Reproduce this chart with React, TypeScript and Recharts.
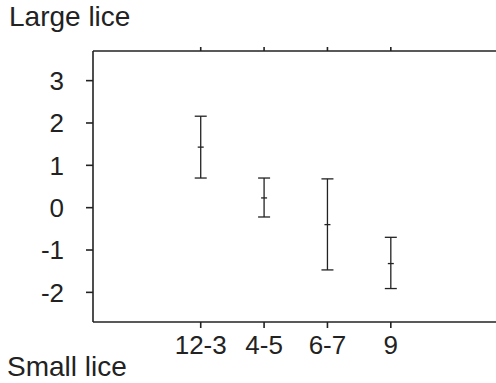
import {
  ComposedChart,
  ErrorBar,
  Scatter,
  XAxis,
  YAxis,
} from "recharts";

const categories = ["12-3", "4-5", "6-7", "9"];
const positions = [1, 2, 3, 4];
const means = [1.43, 0.23, -0.4, -1.32];
const upper = [2.16, 0.7, 0.68, -0.7];
const lower = [0.7, -0.22, -1.47, -1.91];
const yTicks = [-2, -1, 0, 1, 2, 3];

const rows = positions.map((x, i) => ({
  x,
  mean: means[i],
  err: [means[i] - lower[i], upper[i] - means[i]],
}));

const ink = "#222";
const font = "'Liberation Sans', Arial, sans-serif";

function MeanTick(props: any) {
  const { cx, cy } = props;
  return <line x1={cx - 3} x2={cx + 3} y1={cy} y2={cy} stroke={ink} strokeWidth={1.3} />;
}

export default function App() {
  return (
    <div
      style={{
        position: "absolute",
        left: 0,
        top: 0,
        width: 496,
        height: 383,
        overflow: "hidden",
        background: "#fff",
        fontFamily: font,
        color: ink,
      }}
    >
      <div style={{ position: "absolute", left: 9, top: 3, fontSize: 28, lineHeight: "28px" }}>
        Large lice
      </div>
      <div style={{ position: "absolute", left: 7, top: 353, fontSize: 28, lineHeight: "28px" }}>
        Small lice
      </div>
      <ComposedChart
        width={496}
        height={383}
        data={rows}
        margin={{ top: 41, right: 0, bottom: 0, left: 0 }}
        style={{ position: "absolute", left: 0, top: 0 }}
      >
        <XAxis
          xAxisId="bottom"
          dataKey="x"
          type="number"
          domain={[-0.7, 5.66]}
          ticks={positions}
          tickFormatter={(v: number) => categories[positions.indexOf(v)] ?? ""}
          height={61}
          tickSize={6}
          tickMargin={8}
          stroke={ink}
          strokeWidth={1.6}
          tick={{ fill: ink, fontSize: 26, fontFamily: font }}
          allowDataOverflow
        />
        <XAxis
          xAxisId="top"
          orientation="top"
          dataKey="x"
          type="number"
          domain={[-0.7, 5.66]}
          ticks={positions}
          tickFormatter={() => ""}
          height={10}
          tickSize={4}
          stroke={ink}
          strokeWidth={1.6}
          allowDataOverflow
        />
        <YAxis
          dataKey="mean"
          type="number"
          domain={[-2.7, 3.7]}
          ticks={yTicks}
          width={93}
          tickSize={7}
          tickMargin={22}
          stroke={ink}
          strokeWidth={1.6}
          tick={{ fill: ink, fontSize: 26, fontFamily: font }}
          allowDataOverflow
        />
        <Scatter
          xAxisId="bottom"
          dataKey="mean"
          shape={<MeanTick />}
          isAnimationActive={false}
        >
          <ErrorBar
            dataKey="err"
            direction="y"
            width={6}
            stroke={ink}
            strokeWidth={1.3}
            isAnimationActive={false}
          />
        </Scatter>
      </ComposedChart>
    </div>
  );
}
